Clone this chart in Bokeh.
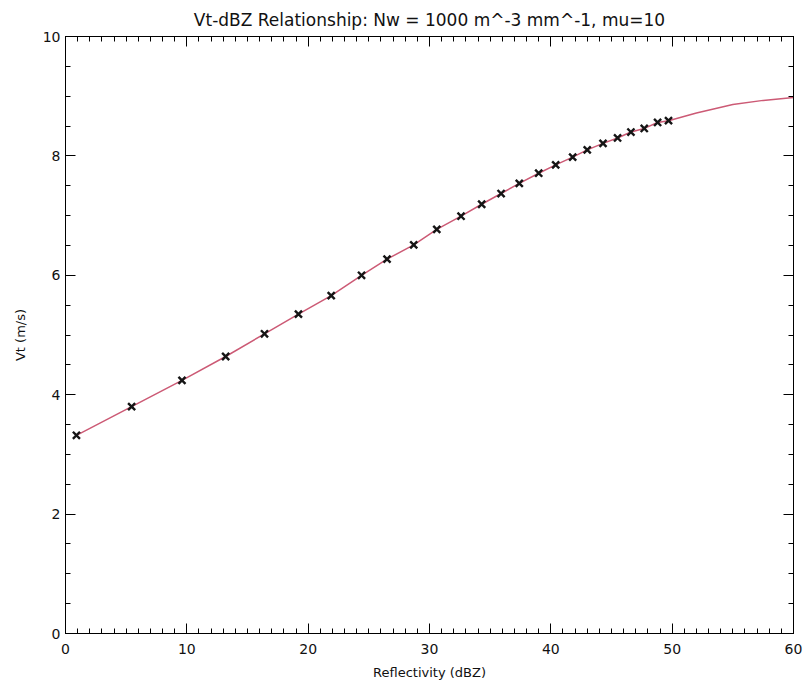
from bokeh.plotting import figure
from bokeh.models import LinearAxis, SingleIntervalTicker, Range1d, CustomJSTickFormatter
from bokeh.embed import file_html
from bokeh.resources import INLINE

# Marker data (reflectivity dBZ, terminal velocity m/s)
dbz = [0.9, 5.45, 9.6, 13.2, 16.4, 19.2, 21.9, 24.4, 26.5, 28.7, 30.6, 32.6,
       34.3, 35.9, 37.4, 39.0, 40.4, 41.8, 43.0, 44.3, 45.5, 46.6, 47.7, 48.8, 49.7]
vt = [3.32, 3.80, 4.24, 4.64, 5.02, 5.35, 5.66, 6.00, 6.27, 6.51, 6.77, 6.99,
      7.19, 7.37, 7.54, 7.71, 7.85, 7.98, 8.10, 8.21, 8.30, 8.40, 8.46, 8.56, 8.59]

# Model curve (continues beyond the markers)
curve_dbz = dbz + [52.0, 55.0, 57.5, 60.0]
curve_vt = vt + [8.72, 8.86, 8.93, 8.98]

x_ticks_interval = 10
y_ticks_interval = 2

FONT = "DejaVu Sans"
TITLE = "Vt-dBZ Relationship: Nw = 1000 m^-3 mm^-1, mu=10"

p = figure(output_backend="svg", toolbar_location=None,
           frame_width=728, frame_height=597,
           min_border_left=65, min_border_right=10, min_border_top=36, min_border_bottom=50,
           x_range=Range1d(0, 60), y_range=Range1d(0, 10),
           x_axis_location=None, y_axis_location=None)

p.title.text = TITLE
p.title.align = "center"
p.title.text_font = FONT
p.title.text_font_size = "17px"
p.title.text_font_style = "normal"
p.title.text_color = "#111111"
p.title.standoff = 14
p.title.offset = 0

p.grid.visible = False
p.outline_line_color = "black"
p.outline_line_width = 1
p.background_fill_color = "white"
p.border_fill_color = "white"

blank = CustomJSTickFormatter(code="return '';")


def style_axis(ax, show_labels):
    ax.major_tick_in = 10
    ax.major_tick_out = 0
    ax.minor_tick_in = 5
    ax.minor_tick_out = 0
    ax.axis_line_color = "black"
    ax.major_tick_line_color = "black"
    ax.minor_tick_line_color = "black"
    ax.major_label_text_font = FONT
    ax.major_label_text_font_size = "14px"
    ax.major_label_text_color = "#111111"
    ax.axis_label_text_font = FONT
    ax.axis_label_text_font_size = "13px"
    ax.axis_label_text_font_style = "normal"
    ax.axis_label_text_color = "#111111"
    if not show_labels:
        ax.formatter = blank
        ax.major_label_standoff = 0


xb = LinearAxis(ticker=SingleIntervalTicker(interval=x_ticks_interval, num_minor_ticks=10),
                axis_label="Reflectivity (dBZ)")
style_axis(xb, True)
xb.major_label_standoff = 10
xb.axis_label_standoff = 8
p.add_layout(xb, "below")

xt = LinearAxis(ticker=SingleIntervalTicker(interval=x_ticks_interval, num_minor_ticks=10))
style_axis(xt, False)
p.add_layout(xt, "above")

yl = LinearAxis(ticker=SingleIntervalTicker(interval=y_ticks_interval, num_minor_ticks=4),
                axis_label="Vt (m/s)")
style_axis(yl, True)
yl.major_label_standoff = 5
yl.axis_label_standoff = 12
p.add_layout(yl, "left")

yr = LinearAxis(ticker=SingleIntervalTicker(interval=y_ticks_interval, num_minor_ticks=4))
style_axis(yr, False)
p.add_layout(yr, "right")

p.line(curve_dbz, curve_vt, line_color="#cc5a75", line_width=1.5)
p.scatter(dbz, vt, marker="x", size=10, line_color="#151515", line_width=2.4)

open("out.html", "w").write(file_html(p, INLINE))
